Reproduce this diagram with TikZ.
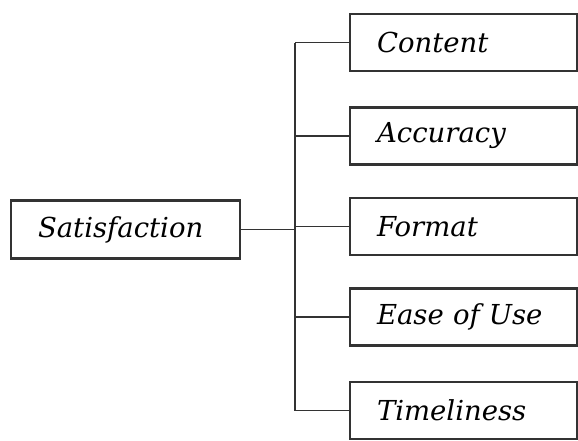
\documentclass[tikz,border=0pt]{standalone}
\usepackage{fontspec}
\setmainfont{DejaVu Serif}
\usepackage{tikz}

\begin{document}
\begin{tikzpicture}[x=1pt, y=1pt,
    box/.style={draw=black!80, line width=2.2pt, minimum width=227pt, minimum height=57pt,
        font=\fontsize{27.5}{30}\selectfont\itshape, anchor=center, inner xsep=27pt},
    link/.style={draw=black!80, line width=1.8pt}]
    \useasboundingbox (0,0) rectangle (578,-440);
    \node[box, minimum width=229pt, minimum height=58pt, align=left, text width=175pt] (sat) at (125.5,-229.5) {Satisfaction};
    \node[box, text width=173pt] (content) at (463.5,-42.5) {Content};
    \node[box, text width=173pt] (accuracy) at (463.5,-136) {Accuracy};
    \node[box, text width=173pt] (format) at (463.5,-226.5) {Format};
    \node[box, text width=173pt] (ease) at (463.5,-317) {Ease of Use};
    \node[box, text width=173pt] (time) at (463.5,-410.5) {Timeliness};
    \coordinate (bus) at (295,0);
    \draw[link] (sat.east) -- (sat.east -| bus);
    \draw[link] (content.west -| bus) -- (time.west -| bus);
    \draw[link] (content.west) -- (content.west -| bus);
    \draw[link] (accuracy.west) -- (accuracy.west -| bus);
    \draw[link] (format.west) -- (format.west -| bus);
    \draw[link] (ease.west) -- (ease.west -| bus);
    \draw[link] (time.west) -- (time.west -| bus);
\end{tikzpicture}
\end{document}
